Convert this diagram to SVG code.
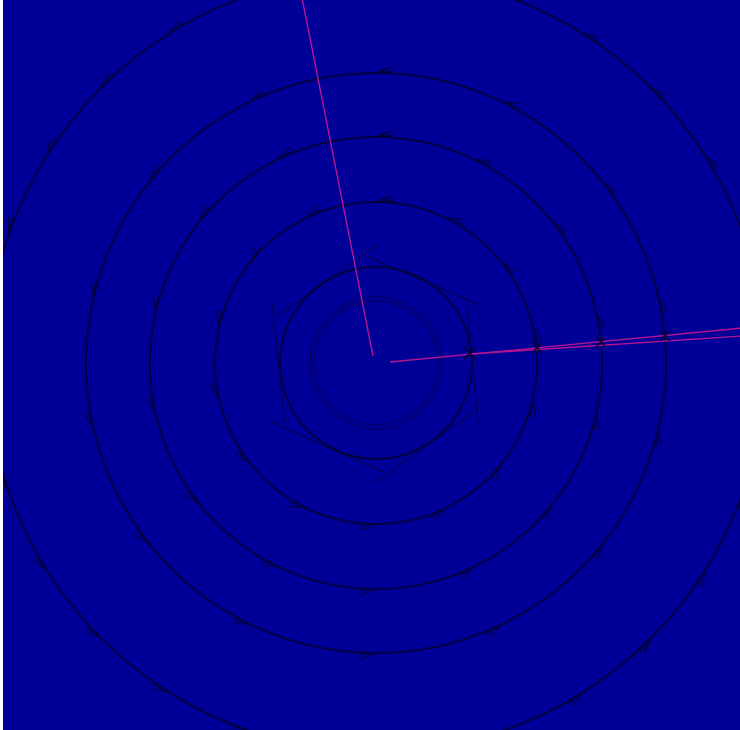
<svg xmlns="http://www.w3.org/2000/svg" width="740" height="730" viewBox="0 0 740 730">
<style>
.ring{fill:none;stroke:#000034;stroke-width:2;stroke-opacity:0.85}
.chev{marker-start:url(#chev);marker-mid:url(#chev);marker-end:url(#chev)}
.faint{fill:none;stroke:#00005a;stroke-width:1.4;stroke-opacity:0.8}
.hex{fill:none;stroke:#000048;stroke-width:1.4;stroke-opacity:0.75}
.ray{fill:none;stroke:#b8148e;stroke-width:1.4}
.xm{stroke:#000030;stroke-width:1.3}
</style>
<defs>
<marker id="chev" markerUnits="userSpaceOnUse" markerWidth="40" markerHeight="40" refX="0" refY="0" viewBox="-20 -20 40 40" orient="auto" overflow="visible">
<path d="M0,0 L-16,6 M0,0 L-18,1.5" fill="none" stroke="#000040" stroke-width="1.5" stroke-opacity="0.8"/>
</marker>
</defs>
<rect x="0" y="0" width="740" height="730" fill="#000099"/>
<g id="core">
<circle cx="376" cy="363" r="62" class="faint"/>
<circle cx="376" cy="363" r="66" class="faint" stroke-opacity="0.5"/>
<line x1="376" y1="363" x2="163" y2="55" stroke="#000060" stroke-width="1.2" stroke-dasharray="2 5" stroke-opacity="0.7"/>
</g>
<g id="hexagon">
<line class="hex" x1="377" y1="245" x2="277" y2="317"/>
<line class="hex" x1="368" y1="257" x2="480" y2="305"/>
<line class="hex" x1="467" y1="303" x2="478" y2="423"/>
<line class="hex" x1="272" y1="303" x2="285" y2="423"/>
<line class="hex" x1="272" y1="422" x2="383" y2="472"/>
<line class="hex" x1="375" y1="483" x2="473" y2="412"/>
</g>
<g id="ring1">
<path class="ring" d="M376,267 A96,96 0 0 0 334.35,276.5 A96,96 0 0 0 300.95,303.14 A96,96 0 0 0 282.41,341.64 A96,96 0 0 0 282.41,384.36 A96,96 0 0 0 300.95,422.86 A96,96 0 0 0 334.35,449.5 A96,96 0 0 0 376,459 A96,96 0 0 0 417.65,449.5 A96,96 0 0 0 451.05,422.86 A96,96 0 0 0 469.59,384.36 A96,96 0 0 0 469.59,341.64 A96,96 0 0 0 451.05,303.14 A96,96 0 0 0 417.65,276.5 A96,96 0 0 0 376,267"/>
</g>
<g id="ring2">
<path class="ring chev" d="M376,202 A161,161 0 0 0 306.14,217.94 A161,161 0 0 0 250.13,262.62 A161,161 0 0 0 219.04,327.18 A161,161 0 0 0 219.04,398.82 A161,161 0 0 0 250.13,463.38 A161,161 0 0 0 306.14,508.06 A161,161 0 0 0 376,524 A161,161 0 0 0 445.86,508.06 A161,161 0 0 0 501.87,463.38 A161,161 0 0 0 532.96,398.82 A161,161 0 0 0 532.96,327.18 A161,161 0 0 0 501.87,262.62 A161,161 0 0 0 445.86,217.94 A161,161 0 0 0 376,202"/>
</g>
<g id="ring3">
<path class="ring chev" d="M376,137 A226,226 0 0 0 277.94,159.37 A226,226 0 0 0 199.31,222.09 A226,226 0 0 0 155.67,312.71 A226,226 0 0 0 155.67,413.29 A226,226 0 0 0 199.31,503.91 A226,226 0 0 0 277.94,566.63 A226,226 0 0 0 376,589 A226,226 0 0 0 474.06,566.63 A226,226 0 0 0 552.69,503.91 A226,226 0 0 0 596.33,413.29 A226,226 0 0 0 596.33,312.71 A226,226 0 0 0 552.69,222.09 A226,226 0 0 0 474.06,159.37 A226,226 0 0 0 376,137"/>
</g>
<g id="ring4">
<path class="ring chev" d="M376,73 A290,290 0 0 0 250.17,101.71 A290,290 0 0 0 149.28,182.18 A290,290 0 0 0 93.28,298.47 A290,290 0 0 0 93.28,427.53 A290,290 0 0 0 149.28,543.82 A290,290 0 0 0 250.17,624.29 A290,290 0 0 0 376,653 A290,290 0 0 0 501.83,624.29 A290,290 0 0 0 602.72,543.82 A290,290 0 0 0 658.72,427.53 A290,290 0 0 0 658.72,298.47 A290,290 0 0 0 602.72,182.18 A290,290 0 0 0 501.83,101.71 A290,290 0 0 0 376,73"/>
</g>
<g id="ring5">
<path class="ring chev" d="M651.06,638.06 A389,389 0 0 0 705.36,569.94 A389,389 0 0 0 743.17,491.49 A389,389 0 0 0 762.55,406.57 A389,389 0 0 0 762.55,319.43 A389,389 0 0 0 743.17,234.51 A389,389 0 0 0 705.36,156.06 A389,389 0 0 0 651.06,87.94 A389,389 0 0 0 582.95,33.64 A389,389 0 0 0 504.49,-4.17 A389,389 0 0 0 419.57,-23.55 A389,389 0 0 0 332.43,-23.55 A389,389 0 0 0 247.51,-4.17 A389,389 0 0 0 169.05,33.64 A389,389 0 0 0 100.94,87.94 A389,389 0 0 0 46.64,156.06 A389,389 0 0 0 8.83,234.51 A389,389 0 0 0 -10.55,319.43 A389,389 0 0 0 -10.55,406.57 A389,389 0 0 0 8.83,491.49 A389,389 0 0 0 46.64,569.94 A389,389 0 0 0 100.94,638.06 A389,389 0 0 0 169.05,692.36 A389,389 0 0 0 247.51,730.17 A389,389 0 0 0 332.43,749.55 A389,389 0 0 0 419.57,749.55 A389,389 0 0 0 504.49,730.17 A389,389 0 0 0 582.95,692.36 A389,389 0 0 0 651.06,638.06"/>
</g>
<g id="connectors">
<line class="ray" x1="373" y1="356" x2="302" y2="-2"/>
<line class="ray" x1="390" y1="362" x2="742" y2="328"/>
<line class="ray" x1="470" y1="354" x2="742" y2="336"/>
<g class="xm">
<path d="M464,347 L476,359 M464,359 L476,347"/>
<path d="M532,343 L542,353 M532,353 L542,343"/>
<path d="M596,337 L606,347 M596,347 L606,337"/>
<path d="M660,331 L670,341 M660,341 L670,331"/>
</g>
</g>
<rect x="0" y="0" width="3" height="730" fill="#ffffff"/>
</svg>
